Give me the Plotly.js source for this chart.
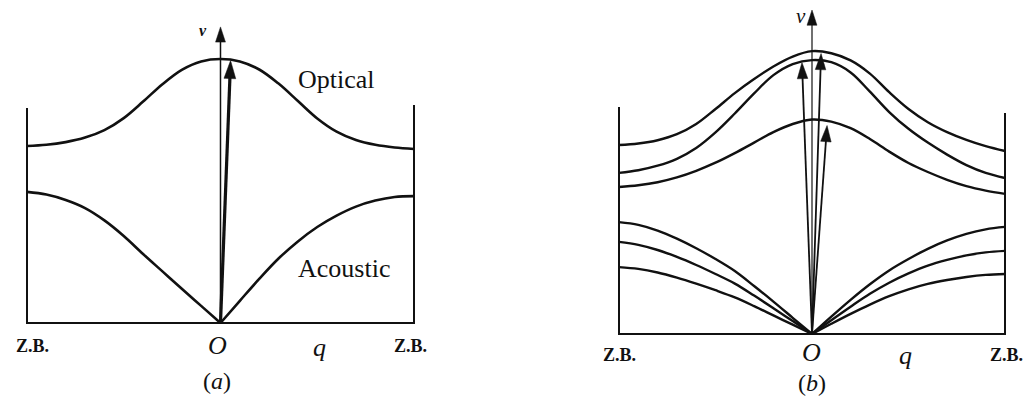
<!DOCTYPE html>
<html>
<head>
<meta charset="utf-8">
<script src="https://cdn.plot.ly/plotly-3.0.1.min.js"></script>
<style>
  html, body { margin: 0; padding: 0; background: #ffffff; }
  #chart { width: 1029px; height: 406px; }
</style>
</head>
<body>
<div id="chart"></div>
<script>
// Wave vector q across the Brillouin zone (Z.B. at q = -1 and q = +1)
const q = [-1, -0.9, -0.8, -0.7, -0.6, -0.5, -0.4, -0.3, -0.2, -0.1, 0,
           0.1, 0.2, 0.3, 0.4, 0.5, 0.6, 0.7, 0.8, 0.9, 1];

// (a) one optical and one acoustic branch
const opticalA  = [5.9, 5.94, 6.03, 6.18, 6.43, 6.83, 7.38, 7.96, 8.44, 8.72, 8.8,
                   8.72, 8.45, 7.98, 7.4, 6.82, 6.38, 6.1, 5.94, 5.85, 5.8];
const acousticA = [4.37, 4.28, 4.1, 3.83, 3.42, 2.9, 2.3, 1.72, 1.14, 0.57, 0,
                   0.74, 1.47, 2.15, 2.72, 3.2, 3.58, 3.88, 4.08, 4.2, 4.23];

// (b) three optical and three acoustic branches
const opticalB1 = [6.3, 6.35, 6.46, 6.66, 7.0, 7.5, 8.03, 8.5, 8.92, 9.25, 9.43,
                   9.36, 9.12, 8.68, 8.06, 7.5, 7.06, 6.73, 6.47, 6.26, 6.1];
const opticalB2 = [5.37, 5.46, 5.61, 5.84, 6.2, 6.72, 7.35, 8.02, 8.63, 9.0, 9.13,
                   9.06, 8.72, 8.08, 7.4, 6.84, 6.38, 5.98, 5.63, 5.37, 5.2];
const opticalB3 = [4.9, 4.96, 5.06, 5.22, 5.44, 5.71, 6.03, 6.38, 6.73, 7.0, 7.15,
                   7.08, 6.86, 6.5, 6.08, 5.7, 5.4, 5.14, 4.93, 4.78, 4.67];
const acousticB1 = [3.73, 3.64, 3.45, 3.18, 2.86, 2.5, 2.1, 1.6, 1.08, 0.54, 0,
                    0.58, 1.14, 1.66, 2.12, 2.5, 2.84, 3.12, 3.34, 3.49, 3.57];
const acousticB2 = [3.07, 2.97, 2.8, 2.57, 2.3, 2.0, 1.68, 1.28, 0.86, 0.43, 0,
                    0.46, 0.91, 1.34, 1.71, 2.02, 2.28, 2.47, 2.62, 2.72, 2.77];
const acousticB3 = [2.23, 2.17, 2.05, 1.88, 1.68, 1.46, 1.22, 0.93, 0.62, 0.31, 0,
                    0.34, 0.67, 0.98, 1.26, 1.49, 1.67, 1.8, 1.9, 1.97, 2.0];

// Zone-boundary frame: left edge top, baseline, right edge top
const frameQ  = [-1, -1, 1, 1];
const frameA  = [7.17, 0, 0, 7.27];
const frameB  = [7.57, 0, 0, 7.37];

// Arrow tips (q, ν), each drawn from the origin O
const axisTipA = [0, 9.87];
const arrowsA  = [[0.052, 8.75]];
const axisTipB = [0, 10.8];
const arrowsB  = [[-0.052, 9.05], [0.047, 9.35], [0.078, 6.95]];

const ink = '#111111';
const serif = 'Liberation Serif, Times New Roman, serif';
const mid = q.indexOf(0);

function curve(xs, ys, xa, ya, w) {
  return {
    x: xs, y: ys, xaxis: xa, yaxis: ya, type: 'scatter', mode: 'lines',
    line: { color: ink, width: w, shape: 'spline', smoothing: 1 },
    hoverinfo: 'skip', cliponaxis: false
  };
}
// optical branches are smooth through q = 0
function optical(y, xa, ya, w) { return [curve(q, y, xa, ya, w)]; }
// acoustic branches meet O in a cusp, so each side is its own curve
function acoustic(y, xa, ya, w) {
  return [curve(q.slice(0, mid + 1), y.slice(0, mid + 1), xa, ya, w),
          curve(q.slice(mid), y.slice(mid), xa, ya, w)];
}
function frame(y, xa, ya) {
  return {
    x: frameQ, y: y, xaxis: xa, yaxis: ya, type: 'scatter', mode: 'lines',
    line: { color: ink, width: 2 }, hoverinfo: 'skip', cliponaxis: false
  };
}
function arrow(tip, xa, ya, width, head) {
  return {
    x: [0, tip[0]], y: [0, tip[1]], xaxis: xa, yaxis: ya,
    type: 'scatter', mode: 'lines+markers', hoverinfo: 'skip', cliponaxis: false,
    line: { color: ink, width: width },
    marker: { symbol: 'arrow', angleref: 'previous', size: [0, head], color: ink,
              opacity: 1, line: { width: 0.5, color: ink } }
  };
}

const traces = [
  frame(frameA, 'x', 'y'),
  ...optical(opticalA, 'x', 'y', 2.6),
  ...acoustic(acousticA, 'x', 'y', 2.6),
  arrow(axisTipA, 'x', 'y', 1.5, 16),
  ...arrowsA.map(t => arrow(t, 'x', 'y', 3.2, 19)),

  frame(frameB, 'x2', 'y2'),
  ...optical(opticalB1, 'x2', 'y2', 2.4),
  ...optical(opticalB2, 'x2', 'y2', 2.4),
  ...optical(opticalB3, 'x2', 'y2', 2.4),
  ...acoustic(acousticB1, 'x2', 'y2', 2.4),
  ...acoustic(acousticB2, 'x2', 'y2', 2.4),
  ...acoustic(acousticB3, 'x2', 'y2', 2.4),
  arrow(axisTipB, 'x2', 'y2', 1.2, 16),
  ...arrowsB.map(t => arrow(t, 'x2', 'y2', 1.8, 17))
];

function label(text, px, py, size) {
  return {
    text: text, x: px / 1029, y: 1 - py / 406, xref: 'paper', yref: 'paper',
    xanchor: 'center', yanchor: 'middle', showarrow: false,
    font: { family: serif, size: size, color: ink }
  };
}

const annotations = [
  label('<b><i>ν</i></b>', 203, 30, 16),
  label('Optical', 336, 80, 26),
  label('Acoustic', 344, 268, 26),
  label('<b>Z.B.</b>', 32, 346, 18),
  label('<b>Z.B.</b>', 410, 346, 18),
  label('<i>O</i>', 217, 345, 26),
  label('<i>q</i>', 319, 347, 26),
  label('(<i>a</i>)', 217, 381, 24),

  label('<i>ν</i>', 801, 16, 21),
  label('<b>Z.B.</b>', 619, 355, 18),
  label('<b>Z.B.</b>', 1006, 355, 18),
  label('<i>O</i>', 811, 352, 26),
  label('<i>q</i>', 905, 355, 26),
  label('(<i>b</i>)', 812, 383, 24)
];

const hidden = { visible: false, fixedrange: true };

const layout = {
  width: 1029, height: 406,
  margin: { l: 0, r: 0, t: 0, b: 0 },
  paper_bgcolor: '#ffffff', plot_bgcolor: '#ffffff',
  showlegend: false,
  xaxis:  Object.assign({ domain: [0.00743, 0.42114], range: [-1.1, 1.1] }, hidden),
  yaxis:  Object.assign({ domain: [0.1675, 0.9803], range: [-0.5, 10.5] }, hidden),
  xaxis2: Object.assign({ domain: [0.58280, 0.99543], range: [-1.1, 1.1], anchor: 'y2' }, hidden),
  yaxis2: Object.assign({ domain: [0.1404, 0.9901], range: [-0.5, 11], anchor: 'x2' }, hidden),
  annotations: annotations
};

Plotly.newPlot('chart', traces, layout, { staticPlot: true, displayModeBar: false });
</script>
</body>
</html>
